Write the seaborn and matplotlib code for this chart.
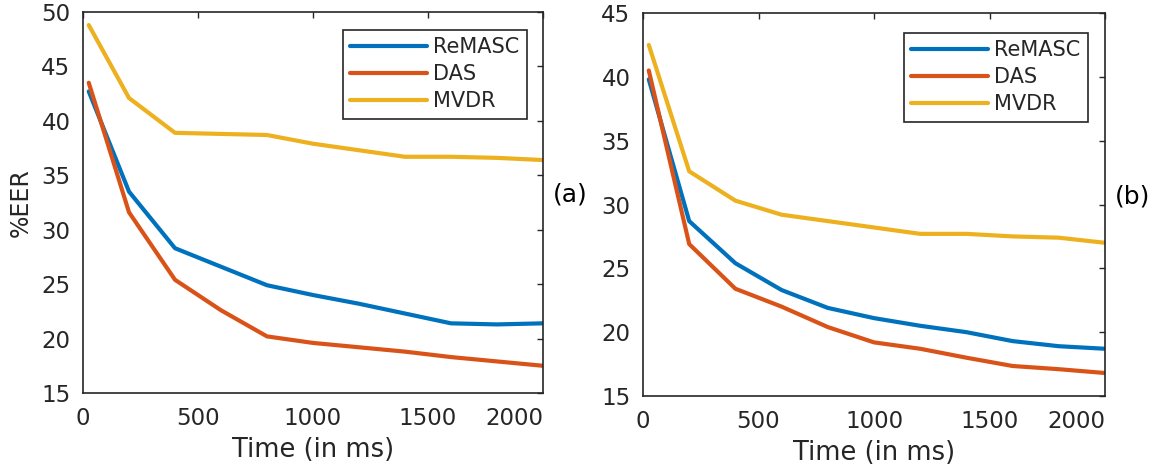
import matplotlib
matplotlib.use("Agg")
import matplotlib.pyplot as plt
import seaborn as sns
import pandas as pd
import numpy as np

sns.set_theme(style="white")
plt.rcParams['font.family'] = ['DejaVu Sans']

# ---- data ----
time_ms = [25, 200, 400, 600, 800, 1000, 1200, 1400, 1600, 1800, 2000]
methods = ["ReMASC", "DAS", "MVDR"]

a_remasc = [42.7, 33.5, 28.3, 26.6, 24.9, 24.0, 23.2, 22.3, 21.4, 21.3, 21.4]
a_das    = [43.5, 31.6, 25.4, 22.6, 20.2, 19.6, 19.2, 18.8, 18.3, 17.9, 17.5]
a_mvdr   = [48.8, 42.1, 38.9, 38.8, 38.7, 37.9, 37.3, 36.7, 36.7, 36.6, 36.4]

b_remasc = [39.8, 28.7, 25.4, 23.3, 21.9, 21.1, 20.5, 20.0, 19.3, 18.9, 18.7]
b_das    = [40.5, 26.9, 23.4, 22.0, 20.4, 19.2, 18.7, 18.0, 17.35, 17.1, 16.8]
b_mvdr   = [42.5, 32.6, 30.3, 29.2, 28.7, 28.2, 27.7, 27.7, 27.5, 27.4, 27.0]

x_ticks = [0, 500, 1000, 1500, 2000]
a_yticks = [15, 20, 25, 30, 35, 40, 45, 50]
b_yticks = [15, 20, 25, 30, 35, 40, 45]

colors = {"ReMASC": "#0072BD", "DAS": "#D95319", "MVDR": "#EDB120"}
txt = "#262626"


def make_df(rem, das, mvdr):
    rows = []
    for m, vals in zip(methods, [rem, das, mvdr]):
        for t, v in zip(time_ms, vals):
            rows.append({"Time": t, "EER": v, "Method": m})
    return pd.DataFrame(rows)


fig = plt.figure(figsize=(11.6, 4.68), dpi=100)
ax1 = fig.add_axes([83/1160, (468-393)/468, 460/1160, 381/468])
ax2 = fig.add_axes([643/1160, (468-396)/468, 462/1160, 383/468])

panels = [
    (ax1, make_df(a_remasc, a_das, a_mvdr), a_yticks, (15, 50), "(a)", 0.965, 0.953),
    (ax2, make_df(b_remasc, b_das, b_mvdr), b_yticks, (15, 45), "(b)", 0.963, 0.948),
]

for i, (ax, df, yt, ylim, tag, lx, ly) in enumerate(panels):
    sns.lineplot(data=df, x="Time", y="EER", hue="Method", hue_order=methods,
                 palette=colors, linewidth=3.0, ax=ax, legend=True)
    ax.set_xlim(0, 2000)
    ax.set_ylim(*ylim)
    ax.set_xticks(x_ticks)
    ax.set_yticks(yt)
    ax.set_xticklabels([str(t) for t in x_ticks])
    ax.set_yticklabels([str(t) for t in yt])
    lbls = ax.get_xticklabels()
    lbls[-1].set_horizontalalignment("right")
    ax.tick_params(axis="both", which="both", direction="in", length=4,
                   width=1, colors=txt, labelsize=16.5, top=True, right=True,
                   labelcolor=txt)
    ax.tick_params(axis="x", pad=10)
    ax.tick_params(axis="y", pad=9)
    for s in ax.spines.values():
        s.set_color(txt)
        s.set_linewidth(1.2)
    ax.set_xlabel("Time (in ms)", fontsize=18.5, color=txt, labelpad=5)
    if i == 0:
        ax.set_ylabel("%EER", fontsize=17, color=txt, labelpad=6)
    else:
        ax.set_ylabel("")
    leg = ax.legend(loc="upper right", bbox_to_anchor=(lx, ly), borderaxespad=0,
                    fontsize=15, handlelength=3.7, handletextpad=0.3,
                    borderpad=0.35, labelspacing=0.34, fancybox=False,
                    framealpha=1, edgecolor=txt)
    leg.get_frame().set_linewidth(1.2)
    for t in leg.get_texts():
        t.set_color(txt)
    for h in leg.get_lines():
        h.set_linewidth(3.0)
    ax.text(1.06, 0.52, tag, transform=ax.transAxes, fontsize=18,
            color="black", ha="center", va="center")

fig.savefig("out.png", dpi=100)
